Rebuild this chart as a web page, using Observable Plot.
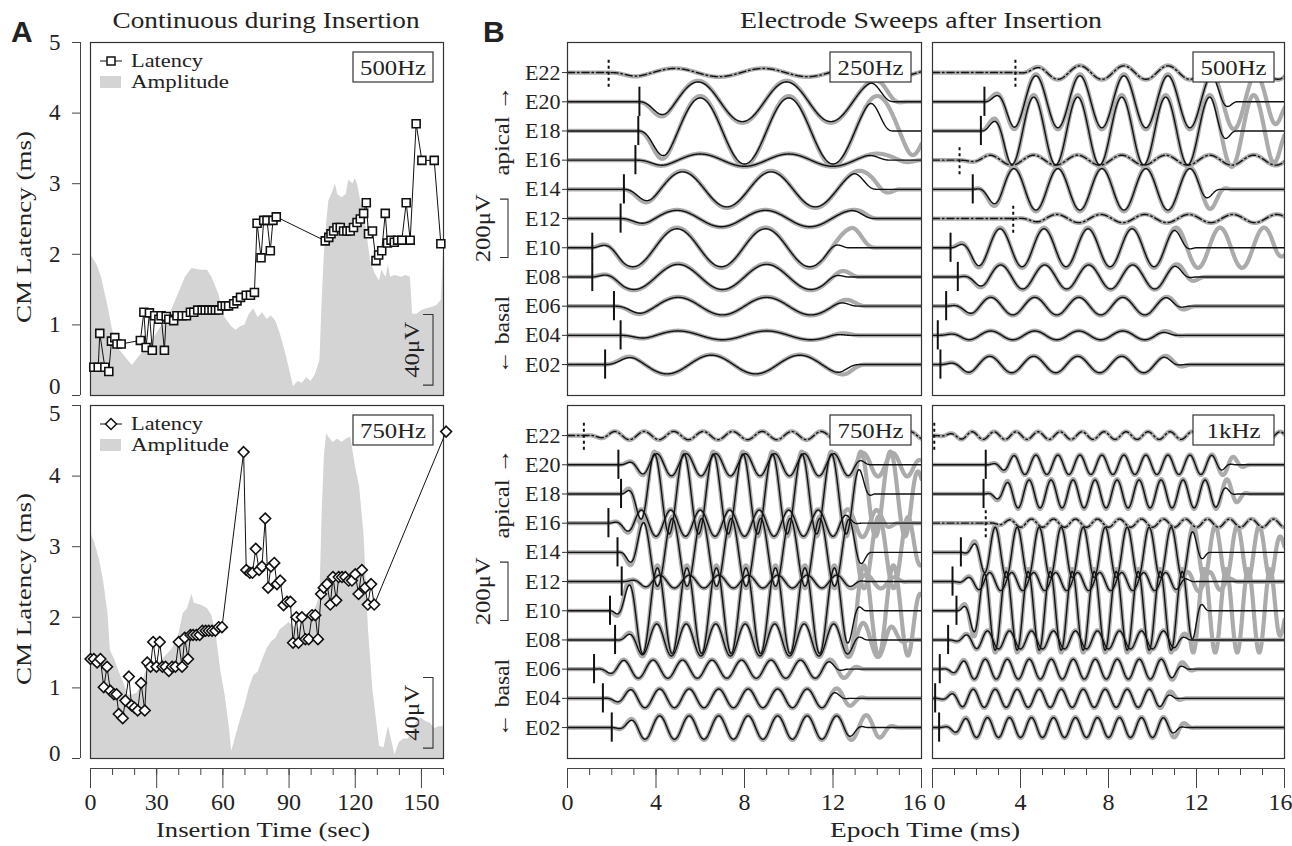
<!DOCTYPE html>
<html><head><meta charset="utf-8">
<script src="https://cdn.jsdelivr.net/npm/d3@7"></script>
<script src="https://cdn.jsdelivr.net/npm/@observablehq/plot@0.6"></script>
<style>
body{margin:0;background:#fff;}
#root{position:relative;width:1292px;height:846px;overflow:hidden;background:#fff;}
#root svg{position:absolute;overflow:visible;}
</style></head><body><div id="root"></div>
<script>
// ---------------- Panel A data ----------------
const insertTime500 = [1.5,3.5,4.2,6.5,8.3,9.5,11,12,13.9,
  22.6,24.2,25.2,26.7,28,29.1,31,32,33.5,34.3,35.5,37.7,39.2,41.5,43.5,45.3,46.8,48.6,50.6,52,
  53.6,55.1,56.6,58.1,59.6,61.1,62.6,64.9,66.4,68,70.6,72.5,74.3,75.5,77.3,78.5,80,81.5,82.7,84.2,
  106.4,108,109,110.2,111.7,113.2,114.7,116.2,117.7,119.2,120.8,122.3,123.8,125,126,127.8,129.4,130.6,
  132,133.6,134.6,136.2,137.7,139.2,141.1,143.1,144.9,147.6,150.2,155.8,158.8];
const latency500 = [0.40,0.40,0.88,0.40,0.34,0.77,0.82,0.73,0.73,
  0.78,1.18,0.68,1.17,0.64,1.13,1.08,1.13,0.64,1.12,1.08,1.06,1.13,1.13,1.13,1.18,1.18,1.21,1.21,1.21,
  1.21,1.21,1.21,1.21,1.27,1.27,1.27,1.30,1.34,1.39,1.42,1.42,1.46,2.44,1.95,2.48,2.48,2.05,2.48,2.53,
  2.19,2.24,2.29,2.33,2.38,2.38,2.33,2.33,2.33,2.38,2.45,2.50,2.58,2.73,2.29,2.33,1.91,1.99,
  2.05,2.58,2.16,2.20,2.17,2.20,2.20,2.73,2.20,3.85,3.33,3.33,2.15];
const ampTime500 = [0,3,5,8,10,13,17,19,22,25,28,32,36,40,43,46,50,53,55,58,61,64,66,68,70,72,74,76,78,80,
  82,84,86,88,90,92,94,96,98,100,102,104,105,106,107,108,110,111,112,114,116,117,119,120,121,123,125,127,129,131,
  132,134,135,136,138,141,143,145,146,148,150,152,155,157,159,160];
const ampUv500 = [80,74,67,50,37,26,20,17,22,26,31,39,46,58,67,72,71,71,67,58,44,39,37,39,40,46,49,44,47,43,
  45,42,35,26,16,5,8,7,10,8,12,20,54,80,97,110,116,120,114,112,114,122,120,123,120,107,94,76,69,65,
  71,67,74,67,68,67,68,67,46,46,48,49,50,51,54,80];

const insertTime750 = [0,1.5,3,4.5,6,7.5,9,10.6,11.8,12.8,14.6,15.8,17.4,18.6,19.9,21.4,22.9,24.6,25.7,27.2,
  28.4,29.9,31.4,32.6,34,35.5,37,38.5,40,41.5,42.7,44.2,45.3,46.5,48,49.5,50.7,52.2,53.6,55.1,
  56.6,58.1,59.6,69.4,70.6,72.2,73.4,74.9,76.4,77.7,79.2,80.5,81.8,83.3,84.5,86,87.5,89.1,90.6,91.8,
  93.3,94.3,95.8,97.4,98.9,100.4,101.9,103.1,104.5,105.7,107.2,108.7,109.9,111.4,112.5,114,115.5,117,118.5,120,
  121.5,123,124.5,125.7,127.2,128.6,161.2];
const latency750 = [1.41,1.41,1.36,1.41,1.01,1.30,0.96,0.91,0.91,0.63,0.57,0.82,1.16,0.75,0.72,0.68,1.07,0.68,1.36,1.30,
  1.65,1.30,1.65,1.30,1.30,1.24,1.30,1.30,1.65,1.30,1.71,1.41,1.75,1.75,1.75,1.75,1.81,1.81,1.81,1.81,
  1.81,1.86,1.86,4.34,2.67,2.63,2.63,2.97,2.67,2.72,3.40,2.42,2.72,2.77,2.47,2.52,2.17,2.22,2.22,1.64,
  2.00,1.64,2.00,1.69,1.69,2.03,2.03,1.69,2.33,2.42,2.47,2.18,2.57,2.24,2.57,2.57,2.57,2.52,2.52,2.61,
  2.33,2.67,2.42,2.18,2.47,2.18,4.63];
const ampTime750 = [0,2,4,6,8,9,11,13,15,17,19,21,23,25,28,31,34,37,40,42,44,46,47,50,53,55,57,59,61,63,
  64,66,68,70,72,74,76,78,80,82,84,86,88,90,92,94,96,98,100,102,104,105,106,107,108,110,112,114,116,118,
  120,122,124,126,128,130,131,133,135,136,138,140,142,144,146,148,150,152,154,156,158,160];
const ampUv750 = [128,122,113,100,81,61,56,49,43,36,36,37,41,49,50,54,58,62,70,82,85,93,88,87,85,81,70,50,36,17,
  4,13,22,30,40,47,49,56,62,66,68,73,75,77,75,73,77,81,83,85,92,139,171,184,182,179,181,179,181,182,
  166,154,126,73,39,18,7,6,18,13,2,9,11,11,15,21,23,21,20,17,18,18];

const latencyTicks = [0,1,2,3,4,5];
const insertTicks = [0,30,60,90,120,150];
const ampScaleBarUv = 40;     // μV shown by the scale bar
const uvPerLatencyUnit = 40;  // amplitude area: 40 μV per 1 ms of latency axis

// ---------------- Panel B data (order E02 … E22) ----------------
const electrodes = ["E02","E04","E06","E08","E10","E12","E14","E16","E18","E20","E22"];
const rowStepUv = 100;
const sweepTicks = [0,4,8,12,16];
const sweepScaleBarUv = 200;

// 250 Hz
const onset250 = [1.7,2.4,2.1,1.12,1.12,2.4,2.55,3.07,3.2,3.25,1.86];
const amp250   = [32,15,30,43,65,28,60,21,113,68,14];
const peak250  = [10.5,9.0,9.0,9.0,8.95,8.95,9.2,10.0,10.0,9.9,8.85];
const end250   = [13.2,12.8,13.1,12.7,12.7,14.0,14.0,14.6,14.7,14.8,17];
const rawEnd250= [13.6,13.2,13.5,13.2,14.0,14.3,15.0,16.0,16.5,15.3,17];
const noFit250 = ["E22"];
// 500 Hz
const onset500 = [0.36,0.24,0.62,1.15,0.82,3.67,1.83,1.23,2.2,2.36,3.77];
const amp500   = [28,15,30,41,65,14,71,17,116,89,23];
const peak500  = [8.6,8.65,8.65,9.1,9.07,7.65,7.7,8.6,8.6,8.7,8.7];
const end500   = [11.5,11.3,11.7,12.0,12.0,17,13.1,17,13.8,13.85,17];
const rawEnd500= [11.8,11.6,12.0,12.4,16.5,17,13.6,17,16.5,16.5,17];
const noFit500 = ["E12","E16","E22"];
// 750 Hz
const onset750 = [2.0,1.6,1.2,2.15,1.92,2.45,2.26,1.85,2.42,2.3,0.74];
const amp750   = [40,32,31,55,147,22,116,45,137,38,14];
const peak750  = [5.5,5.5,5.2,6.7,6.73,5.5,6.07,6.0,5.26,6.7,4.8];
const end750   = [13.6,12.8,12.7,13.6,13.5,13.6,13.8,13.3,13.9,13.8,17];
const rawEnd750= [15.0,13.6,13.5,15.5,16.5,15.5,16.5,15.0,16.5,16.5,17];
const noFit750 = ["E22"];
// 1 kHz
const onset1k = [0.3,0.12,0.33,0.71,1.09,0.91,1.29,2.42,2.32,2.42,0.08];
const amp1k   = [34,31,34,31,135,31,86,14,48,33,13];
const peak1k  = [4.5,3.85,4.4,4.5,4.35,4.6,4.85,4.5,4.39,4.7,3.8];
const end1k   = [11.6,11.3,11.8,11.9,12.6,12.0,12.7,17,13.9,13.8,17];
const rawEnd1k= [12.0,11.6,12.1,12.2,16.5,14.0,16.5,17,14.5,14.5,17];
const noFit1k = ["E16","E22"];

// ---------------- helpers ----------------
const FONT = "'Liberation Serif','Times New Roman',serif";
const INK = "#222";
const root = document.getElementById("root");
function place(node, left, top){ node.style.left = left+"px"; node.style.top = top+"px"; root.appendChild(node); return node; }

function envelope(t, on, off){
  const ru = 1.5, rd = 1.2;
  if (t < on || t > off) return 0;
  if (t < on + ru) return Math.sin(Math.PI/2*(t-on)/ru)**2;
  if (t > off - rd) return Math.cos(Math.PI/2*(t-(off-rd))/rd)**2;
  return 1;
}

const diamond = {draw(ctx, size){ const s = Math.sqrt(size/2); ctx.moveTo(0,-s); ctx.lineTo(s,0); ctx.lineTo(0,s); ctx.lineTo(-s,0); ctx.closePath(); }};
const fmt = d => String(d);
const blank = () => "";

// ---------------- Panel A plots ----------------
function panelA({times, lats, ampT, ampV, symbol, r, top, height, mT, mB, showX, dyTop, dyBottom}){
  const lat = times.map((t,i)=>({t, v: lats[i]}));
  const amp = ampT.map((t,i)=>({t, v: ampV[i]/uvPerLatencyUnit}));
  const ax = {dx:-10, tickSize:0, tickPadding:20, fontSize:23, label:null, tickFormat: fmt};
  const marks = [
    Plot.areaY(amp, {x:"t", y:"v", fill:"#d4d4d4", curve:"linear"}),
    Plot.frame({stroke:"#333", strokeWidth:1.2}),
    Plot.ruleX([0], {dx:-10, stroke:"#444", strokeWidth:1}),
    Plot.axisY({ticks: latencyTicks, dx:-10, tickSize:8, tickFormat: blank, label:null, stroke:"#444"}),
    Plot.axisY({...ax, ticks: latencyTicks.slice(1,-1)}),
    Plot.axisY({...ax, ticks: [latencyTicks[0]], dy: dyBottom}),
    Plot.axisY({...ax, ticks: [latencyTicks[latencyTicks.length-1]], dy: dyTop}),
    Plot.line(lat, {x:"t", y:"v", stroke:"#111", strokeWidth:1}),
    Plot.dot(lat, {x:"t", y:"v", symbol, r, fill:"white", stroke:"#111", strokeWidth:1.6})
  ];
  if (showX){
    marks.push(Plot.ruleY([0], {dy:10, stroke:"#444", strokeWidth:1}));
    marks.push(Plot.axisX({ticks: d3.range(0,161,10), tickSize:7, tickFormat: blank, dy:10, label:null, stroke:"#444"}));
    marks.push(Plot.axisX({ticks: insertTicks, tickSize:20, tickPadding:4, dy:10, fontSize:24, label:null, stroke:"#444", tickFormat: fmt}));
  }
  const p = Plot.plot({
    width:460, height, marginLeft:90, marginRight:17, marginTop:mT, marginBottom:mB,
    x:{domain:[0,160], axis: showX ? undefined : null},
    y:{domain:[0,5]},
    style:{fontFamily:FONT, fontSize:"23px", color:INK, background:"transparent"},
    marks
  });
  place(p, 0, top);
  return p;
}

const pA1 = panelA({times:insertTime500, lats:latency500, ampT:ampTime500, ampV:ampUv500, symbol:"square", r:4.5, top:0, height:400, mT:42, mB:5, showX:false, dyTop:0, dyBottom:-9});
const pA2 = panelA({times:insertTime750, lats:latency750, ampT:ampTime750, ampV:ampUv750, symbol:diamond, r:4.3, top:400, height:446, mT:5, mB:88, showX:true, dyTop:8, dyBottom:-5});

// ---------------- Panel B plots ----------------
const yDomB = [-106, 1103];
function sweepPanel({freq, on, amp, pk, end, rawEnd, noFit, left, top, width, height, mL, mR, mT, mB, yAxis, xAxis, firstDx, lastDx}){
  const ts = d3.range(0, 16.0001, 0.02);
  const black = [], gray = [], marker = [];
  electrodes.forEach((e,i)=>{
    const base = i*rowStepUv;
    const dash = noFit.includes(e);
    for (const t of ts){
      const c = Math.cos(2*Math.PI*freq*(t-pk[i])/1000);
      black.push({e, t, v: base + amp[i]*envelope(t, on[i], end[i])*c, dash});
      gray.push({e, t, v: base + 1.06*amp[i]*envelope(t, on[i]-0.08, rawEnd[i])*c});
    }
    marker.push({e, t:on[i], y1: base-50, y2: base+50, dash});
  });
  const marks = [
    Plot.line(gray, {x:"t", y:"v", z:"e", stroke:"#ababab", strokeWidth:4.2, clip:true}),
    Plot.line(black.filter(d=>!d.dash), {x:"t", y:"v", z:"e", stroke:"#111", strokeWidth:1.4, clip:true}),
    Plot.line(black.filter(d=>d.dash), {x:"t", y:"v", z:"e", stroke:"#111", strokeWidth:1.4, strokeDasharray:"7,3,1.5,3", clip:true}),
    Plot.ruleX(marker.filter(d=>!d.dash), {x:"t", y1:"y1", y2:"y2", stroke:"#111", strokeWidth:2}),
    Plot.ruleX(marker.filter(d=>d.dash), {x:"t", y1:"y1", y2:"y2", stroke:"#111", strokeWidth:2, strokeDasharray:"3,3"}),
    Plot.frame({stroke:"#333", strokeWidth:1.2})
  ];
  if (yAxis) marks.push(Plot.axisY({ticks: d3.range(0, 1001, rowStepUv), tickFormat: v => electrodes[Math.round(v/rowStepUv)], tickSize:5, tickPadding:2, fontSize:22, label:null, stroke:"#333"}));
  if (xAxis){
    const lx = {tickSize:0, tickPadding:24, dy:10, fontSize:24, label:null, tickFormat: fmt};
    marks.push(Plot.ruleY([yDomB[0]], {dy:10, stroke:"#444", strokeWidth:1}));
    marks.push(Plot.axisX({ticks: d3.range(0,17,1), tickSize:7, tickFormat: blank, dy:10, label:null, stroke:"#444"}));
    marks.push(Plot.axisX({ticks: sweepTicks, tickSize:20, tickFormat: blank, dy:10, label:null, stroke:"#444"}));
    marks.push(Plot.axisX({...lx, ticks: sweepTicks.slice(1,-1)}));
    marks.push(Plot.axisX({...lx, ticks: [sweepTicks[0]], dx:firstDx}));
    marks.push(Plot.axisX({...lx, ticks: [sweepTicks[sweepTicks.length-1]], dx:lastDx}));
  }
  const p = Plot.plot({
    width, height, marginLeft:mL, marginRight:mR, marginTop:mT, marginBottom:mB,
    x:{domain:[0,16], axis: xAxis ? undefined : null},
    y:{domain:yDomB, axis: yAxis ? undefined : null},
    style:{fontFamily:FONT, fontSize:"22px", color:INK, background:"transparent"},
    marks
  });
  place(p, left, top);
  return p;
}
const geomL = {left:460, width:465, mL:107, mR:4, firstDx:0, lastDx:-7};
const geomR = {left:925, width:367, mL:7, mR:8, firstDx:7, lastDx:-4};
const rowTop = {top:0, height:400, mT:42, mB:5};
const rowBot = {top:400, height:446, mT:5, mB:88};
const pB1 = sweepPanel({freq:250, on:onset250, amp:amp250, pk:peak250, end:end250, rawEnd:rawEnd250, noFit:noFit250, ...geomL, ...rowTop, yAxis:true, xAxis:false});
const pB2 = sweepPanel({freq:500, on:onset500, amp:amp500, pk:peak500, end:end500, rawEnd:rawEnd500, noFit:noFit500, ...geomR, ...rowTop, yAxis:false, xAxis:false});
const pB3 = sweepPanel({freq:750, on:onset750, amp:amp750, pk:peak750, end:end750, rawEnd:rawEnd750, noFit:noFit750, ...geomL, ...rowBot, yAxis:true, xAxis:true});
const pB4 = sweepPanel({freq:1000, on:onset1k, amp:amp1k, pk:peak1k, end:end1k, rawEnd:rawEnd1k, noFit:noFit1k, ...geomR, ...rowBot, yAxis:false, xAxis:true});

// ---------------- overlay: titles, labels, legends, boxes ----------------
const ov = d3.create("svg").attr("width",1292).attr("height",846)
  .style("left","0px").style("top","0px").style("pointer-events","none")
  .style("font-family", FONT).attr("fill", INK);

function txt(x, y, s, {size=22, anchor="middle", len=null, rotate=false, weight=null, family=null, baseline=null}={}){
  const g = ov.append("g").attr("transform", `translate(${x},${y})` + (rotate ? " rotate(-90)" : ""));
  const t = g.append("text").attr("text-anchor", anchor).attr("font-size", size).text(s);
  if (len) t.attr("textLength", len).attr("lengthAdjust", "spacingAndGlyphs");
  if (weight) t.attr("font-weight", weight);
  if (family) t.attr("font-family", family);
  if (baseline) t.attr("dominant-baseline", baseline);
  return t;
}
function box(x, y, w, h, s, len){
  ov.append("rect").attr("x",x).attr("y",y).attr("width",w).attr("height",h).attr("fill","white").attr("stroke","#333").attr("stroke-width",1.2);
  txt(x+w/2, y+h/2+8, s, {size:22, len});
}

// panel letters & titles
txt(11, 42, "A", {size:30, anchor:"start", weight:"bold", family:"'Liberation Sans',Arial,sans-serif"});
txt(483, 42, "B", {size:30, anchor:"start", weight:"bold", family:"'Liberation Sans',Arial,sans-serif"});
txt(266, 28, "Continuous during Insertion", {size:23, len:307});
txt(921, 28, "Electrode Sweeps after Insertion", {size:23, len:362});

// y labels panel A
txt(23, 227, "CM Latency (ms)", {size:22, rotate:true, len:192, baseline:"central"});
txt(23, 589, "CM Latency (ms)", {size:22, rotate:true, len:192, baseline:"central"});
// x labels
txt(263, 837, "Insertion Time (sec)", {size:22, len:214});
txt(925, 837, "Epoch Time (ms)", {size:22, len:190});

// legends in panel A
function legendA(frameTop, sym){
  const y1 = frameTop + 19;
  ov.append("line").attr("x1",100).attr("x2",122).attr("y1",y1).attr("y2",y1).attr("stroke","#111").attr("stroke-width",1);
  if (sym === "square") ov.append("rect").attr("x",107).attr("y",y1-4).attr("width",8).attr("height",8).attr("fill","white").attr("stroke","#111").attr("stroke-width",1.5);
  else ov.append("path").attr("d",`M111,${y1-5.5}L116.5,${y1}L111,${y1+5.5}L105.5,${y1}Z`).attr("fill","white").attr("stroke","#111").attr("stroke-width",1.5);
  txt(131, y1+6, "Latency", {size:18, anchor:"start", len:72});
  ov.append("rect").attr("x",100).attr("y",frameTop+34).attr("width",21).attr("height",12).attr("fill","#d4d4d4");
  txt(131, frameTop+46, "Amplitude", {size:18, anchor:"start", len:98});
}
legendA(42, "square");
legendA(405, "diamond");
box(353, 52, 80, 30, "500Hz", 66);
box(353, 415, 80, 30, "750Hz", 66);

// 40 μV scale bars (panel A), positioned via the latency/amplitude scale
function ampBar(p, topOff){
  const sy = p.scale("y");
  const y0 = topOff + sy.apply(0.14), y1 = topOff + sy.apply(0.14 + ampScaleBarUv/uvPerLatencyUnit);
  ov.append("path").attr("d", `M423,${y1}H433V${y0}H423`).attr("fill","none").attr("stroke","#333").attr("stroke-width",1.1);
  txt(412, (y0+y1)/2, `${ampScaleBarUv}μV`, {size:21, rotate:true, len:56, baseline:"central"});
}
ampBar(pA1, 0);
ampBar(pA2, 400);

// panel B side annotations
function sideB(p, topOff){
  const sy = p.scale("y");
  const y0 = topOff + sy.apply(365), y1 = topOff + sy.apply(365 + sweepScaleBarUv);
  ov.append("path").attr("d", `M500,${y1}H508V${y0}H500`).attr("fill","none").attr("stroke","#333").attr("stroke-width",1.1);
  txt(482, (y0+y1)/2, `${sweepScaleBarUv}μV`, {size:22, rotate:true, len:68, baseline:"central"});
  const yTop = topOff + sy.apply(800), yBot = topOff + sy.apply(100);
  txt(501, yTop, "apical →", {size:22, rotate:true, len:90, baseline:"central"});
  txt(501, yBot, "← basal", {size:22, rotate:true, len:78, baseline:"central"});
}
sideB(pB1, 0);
sideB(pB3, 400);

box(830, 52, 81, 30, "250Hz", 66);
box(1193, 52, 81, 30, "500Hz", 66);
box(830, 415, 81, 30, "750Hz", 66);
box(1193, 415, 81, 30, "1kHz", 54);

root.appendChild(ov.node());
</script></body></html>
